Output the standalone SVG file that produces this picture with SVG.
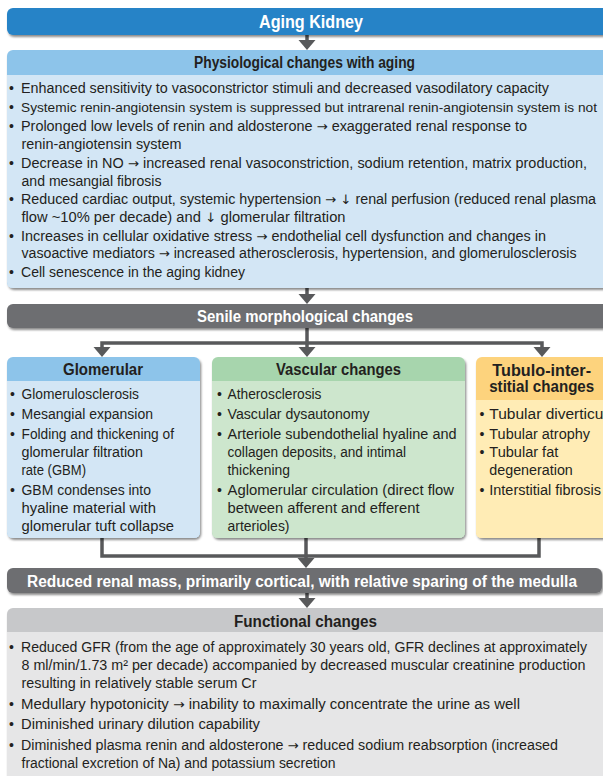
<svg xmlns="http://www.w3.org/2000/svg" xmlns:xlink="http://www.w3.org/1999/xlink" width="603" height="776" viewBox="0 0 603 776">
<defs>
<filter id="sh" x="-5%" y="-10%" width="115%" height="130%">
<feDropShadow dx="1.2" dy="2" stdDeviation="1.3" flood-color="#000" flood-opacity="0.45"/>
</filter>
<path id="ah" d="M-8.5,0 H8.5 L0,10 Z" fill="#58595b"/>
<style>
.b{font-family:"Liberation Sans",Arial,sans-serif;font-size:14px;fill:#231f20}
.ar{font-family:"DejaVu Sans",sans-serif;font-size:13px}
.h{font-family:"Liberation Sans",Arial,sans-serif;font-size:16px;font-weight:bold;fill:#231f20;text-anchor:middle}
.hw{font-family:"Liberation Sans",Arial,sans-serif;font-size:16px;font-weight:bold;fill:#ffffff;text-anchor:middle}
.t{font-family:"Liberation Sans",Arial,sans-serif;font-size:18.5px;font-weight:bold;fill:#ffffff;text-anchor:middle}
.cn{stroke:#58595b;stroke-width:3.5;fill:none}
</style>
</defs>
<rect width="603" height="776" fill="#ffffff"/>

<g id="connectors">
<line class="cn" x1="307" y1="34" x2="307" y2="41"/>
<use xlink:href="#ah" x="307" y="40"/>
<line class="cn" x1="307" y1="288" x2="307" y2="295"/>
<use xlink:href="#ah" x="307" y="294"/>
<line class="cn" x1="307" y1="328" x2="307" y2="348"/>
<polyline class="cn" points="102,348 102,343 542,343 542,348"/>
<use xlink:href="#ah" x="102" y="347"/>
<use xlink:href="#ah" x="307" y="347"/>
<use xlink:href="#ah" x="542" y="347"/>
<polyline class="cn" points="102,538 102,556 539,556 539,538"/>
<line class="cn" x1="306" y1="538" x2="306" y2="559"/>
<use xlink:href="#ah" x="306" y="558"/>
<line class="cn" x1="307" y1="593" x2="307" y2="599"/>
<use xlink:href="#ah" x="307" y="598"/>
</g>

<g id="aging-kidney">
<rect x="7" y="8" width="620" height="27" rx="6" fill="#2683c7" filter="url(#sh)"/>
<text class="t" x="311" y="28" textLength="104" lengthAdjust="spacingAndGlyphs">Aging Kidney</text>
</g>

<g id="physiological">
<rect x="7" y="50" width="620" height="238" rx="6" fill="#8dc4ea" filter="url(#sh)"/>
<path d="M7,75 H627 V282 Q627,288 621,288 H13 Q7,288 7,282 Z" fill="#d3e6f5"/>
<text class="h" x="304.5" y="68" textLength="221" lengthAdjust="spacingAndGlyphs">Physiological changes with aging</text>
<text class="b" x="9" y="93">•</text>
<text class="b" x="21" y="93" textLength="528" lengthAdjust="spacingAndGlyphs">Enhanced sensitivity to vasoconstrictor stimuli and decreased vasodilatory capacity</text>
<text class="b" x="9" y="112">•</text>
<text class="b" x="21" y="112" style="font-size:13px" textLength="576" lengthAdjust="spacingAndGlyphs">Systemic renin-angiotensin system is suppressed but intrarenal renin-angiotensin system is not</text>
<text class="b" x="9" y="131">•</text>
<text class="b" x="21" y="131" textLength="506" lengthAdjust="spacingAndGlyphs">Prolonged low levels of renin and aldosterone <tspan class="ar">→</tspan> exaggerated renal response to</text>
<text class="b" x="21.5" y="149" textLength="160" lengthAdjust="spacingAndGlyphs">renin-angiotensin system</text>
<text class="b" x="9" y="168">•</text>
<text class="b" x="21" y="168" textLength="566" lengthAdjust="spacingAndGlyphs">Decrease in NO <tspan class="ar">→</tspan> increased renal vasoconstriction, sodium retention, matrix production,</text>
<text class="b" x="21.5" y="186" textLength="140" lengthAdjust="spacingAndGlyphs">and mesangial fibrosis</text>
<text class="b" x="9" y="204">•</text>
<text class="b" x="21" y="204" textLength="575" lengthAdjust="spacingAndGlyphs">Reduced cardiac output, systemic hypertension <tspan class="ar">→ ↓</tspan> renal perfusion (reduced renal plasma</text>
<text class="b" x="21.5" y="222" textLength="324" lengthAdjust="spacingAndGlyphs">flow ~10% per decade) and <tspan class="ar">↓</tspan> glomerular filtration</text>
<text class="b" x="9" y="241">•</text>
<text class="b" x="21" y="241" textLength="525" lengthAdjust="spacingAndGlyphs">Increases in cellular oxidative stress <tspan class="ar">→</tspan> endothelial cell dysfunction and changes in</text>
<text class="b" x="21.5" y="258" textLength="555" lengthAdjust="spacingAndGlyphs">vasoactive mediators <tspan class="ar">→</tspan> increased atherosclerosis, hypertension, and glomerulosclerosis</text>
<text class="b" x="9" y="277">•</text>
<text class="b" x="21" y="277" textLength="224" lengthAdjust="spacingAndGlyphs">Cell senescence in the aging kidney</text>
</g>

<g id="senile">
<rect x="7" y="304" width="620" height="24" rx="6" fill="#6d6e71" filter="url(#sh)"/>
<text class="hw" x="305" y="322" textLength="216" lengthAdjust="spacingAndGlyphs">Senile morphological changes</text>
</g>

<g id="glomerular">
<rect x="7" y="357" width="193" height="181" rx="6" fill="#8dc4ea" filter="url(#sh)"/>
<path d="M7,381 H200 V532 Q200,538 194,538 H13 Q7,538 7,532 Z" fill="#d3e6f5"/>
<text class="h" x="103" y="375" textLength="80" lengthAdjust="spacingAndGlyphs">Glomerular</text>
<text class="b" x="10" y="399">•</text>
<text class="b" x="21.5" y="399" textLength="117.5" lengthAdjust="spacingAndGlyphs">Glomerulosclerosis</text>
<text class="b" x="10" y="419">•</text>
<text class="b" x="21.5" y="419" textLength="131.5" lengthAdjust="spacingAndGlyphs">Mesangial expansion</text>
<text class="b" x="10" y="439">•</text>
<text class="b" x="21.5" y="439" textLength="152.5" lengthAdjust="spacingAndGlyphs">Folding and thickening of</text>
<text class="b" x="21.5" y="457" textLength="121.5" lengthAdjust="spacingAndGlyphs">glomerular filtration</text>
<text class="b" x="21.5" y="475" textLength="64.5" lengthAdjust="spacingAndGlyphs">rate (GBM)</text>
<text class="b" x="10" y="495">•</text>
<text class="b" x="21.5" y="495" textLength="129.5" lengthAdjust="spacingAndGlyphs">GBM condenses into</text>
<text class="b" x="21.5" y="513" textLength="134.5" lengthAdjust="spacingAndGlyphs">hyaline material with</text>
<text class="b" x="21.5" y="531" textLength="152.5" lengthAdjust="spacingAndGlyphs">glomerular tuft collapse</text>
</g>

<g id="vascular">
<rect x="212" y="357" width="253" height="181" rx="6" fill="#a7d5ad" filter="url(#sh)"/>
<path d="M212,381 H465 V532 Q465,538 459,538 H218 Q212,538 212,532 Z" fill="#cde6cd"/>
<text class="h" x="338.5" y="375" textLength="125" lengthAdjust="spacingAndGlyphs">Vascular changes</text>
<text class="b" x="217" y="399">•</text>
<text class="b" x="227.5" y="399" textLength="94" lengthAdjust="spacingAndGlyphs">Atherosclerosis</text>
<text class="b" x="217" y="419">•</text>
<text class="b" x="227.5" y="419" textLength="142" lengthAdjust="spacingAndGlyphs">Vascular dysautonomy</text>
<text class="b" x="217" y="439">•</text>
<text class="b" x="227.5" y="439" textLength="229" lengthAdjust="spacingAndGlyphs">Arteriole subendothelial hyaline and</text>
<text class="b" x="227.5" y="457" textLength="178.5" lengthAdjust="spacingAndGlyphs">collagen deposits, and intimal</text>
<text class="b" x="227.5" y="475" textLength="62.5" lengthAdjust="spacingAndGlyphs">thickening</text>
<text class="b" x="217" y="495">•</text>
<text class="b" x="227.5" y="495" textLength="226.5" lengthAdjust="spacingAndGlyphs">Aglomerular circulation (direct flow</text>
<text class="b" x="227.5" y="513" textLength="192" lengthAdjust="spacingAndGlyphs">between afferent and efferent</text>
<text class="b" x="227.5" y="531" textLength="62" lengthAdjust="spacingAndGlyphs">arterioles)</text>
</g>

<g id="tubulo-interstitial">
<rect x="476" y="357" width="140" height="181" rx="6" fill="#fdd37d" filter="url(#sh)"/>
<path d="M476,400 H616 V532 Q616,538 610,538 H482 Q476,538 476,532 Z" fill="#ffecb5"/>
<text class="h" x="541.7" y="376" textLength="98.7" lengthAdjust="spacingAndGlyphs">Tubulo-inter-</text>
<text class="h" x="541.7" y="392" textLength="105" lengthAdjust="spacingAndGlyphs">stitial changes</text>
<text class="b" x="479.5" y="419">•</text>
<text class="b" x="489.3" y="419" textLength="121" lengthAdjust="spacingAndGlyphs">Tubular diverticuli</text>
<text class="b" x="479.5" y="439">•</text>
<text class="b" x="489.3" y="439" textLength="100.7" lengthAdjust="spacingAndGlyphs">Tubular atrophy</text>
<text class="b" x="479.5" y="457">•</text>
<text class="b" x="489.3" y="457" textLength="69" lengthAdjust="spacingAndGlyphs">Tubular fat</text>
<text class="b" x="489.3" y="475" textLength="83.5" lengthAdjust="spacingAndGlyphs">degeneration</text>
<text class="b" x="479.5" y="495">•</text>
<text class="b" x="489.3" y="495" textLength="111.7" lengthAdjust="spacingAndGlyphs">Interstitial fibrosis</text>
</g>

<g id="reduced-renal-mass">
<rect x="7" y="568" width="595" height="25" rx="6" fill="#6d6e71" filter="url(#sh)"/>
<text class="hw" x="302" y="587" textLength="550" lengthAdjust="spacingAndGlyphs">Reduced renal mass, primarily cortical, with relative sparing of the medulla</text>
</g>

<g id="functional">
<rect x="7" y="608" width="620" height="200" rx="6" fill="#c7c8ca" filter="url(#sh)"/>
<rect x="7" y="632" width="620" height="176" fill="#e6e6e7"/>
<text class="h" x="305.5" y="627" textLength="143" lengthAdjust="spacingAndGlyphs">Functional changes</text>
<text class="b" x="9" y="652">•</text>
<text class="b" x="21" y="652" textLength="566" lengthAdjust="spacingAndGlyphs">Reduced GFR (from the age of approximately 30 years old, GFR declines at approximately</text>
<text class="b" x="21.5" y="670" textLength="564" lengthAdjust="spacingAndGlyphs">8 ml/min/1.73 m² per decade) accompanied by decreased muscular creatinine production</text>
<text class="b" x="21.5" y="688" textLength="235" lengthAdjust="spacingAndGlyphs">resulting in relatively stable serum Cr</text>
<text class="b" x="9" y="709">•</text>
<text class="b" x="21" y="709" textLength="499" lengthAdjust="spacingAndGlyphs">Medullary hypotonicity <tspan class="ar">→</tspan> inability to maximally concentrate the urine as well</text>
<text class="b" x="9" y="729">•</text>
<text class="b" x="21" y="729" textLength="239" lengthAdjust="spacingAndGlyphs">Diminished urinary dilution capability</text>
<text class="b" x="9" y="750">•</text>
<text class="b" x="21" y="750" textLength="537" lengthAdjust="spacingAndGlyphs">Diminished plasma renin and aldosterone <tspan class="ar">→</tspan> reduced sodium reabsorption (increased</text>
<text class="b" x="21.5" y="768" textLength="314" lengthAdjust="spacingAndGlyphs">fractional excretion of Na) and potassium secretion</text>
</g>
</svg>
